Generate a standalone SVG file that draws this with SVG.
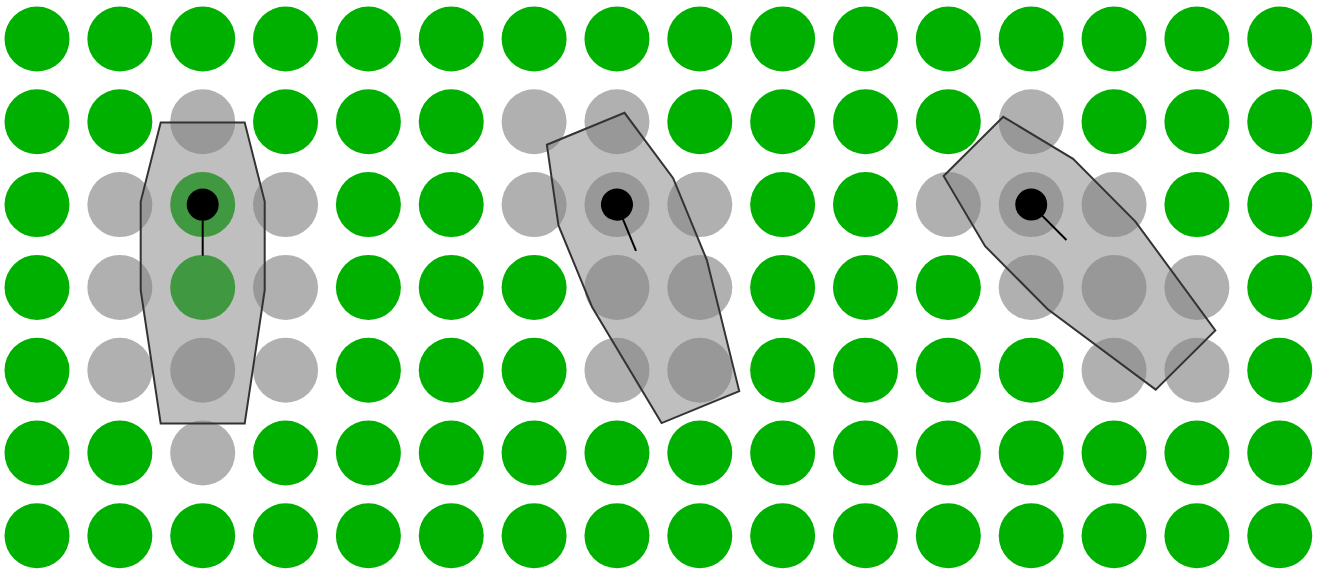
<svg xmlns="http://www.w3.org/2000/svg" width="1325" height="579" viewBox="0 0 1325 579">
<style>
.g{fill:#00b000}
.n{fill:#b0b0b0}
.shape{fill:#808080;fill-opacity:0.5;stroke:#333;stroke-width:2;stroke-linejoin:miter}
.dir{stroke:#000;stroke-width:2}
.dot{fill:#000}
</style>
<defs>
<circle id="c" r="32.5"/>
<polygon id="p" points="-42,-82 42,-82 62,-3 62,85.5 42,219 -42,219 -62,85.5 -62,-3"/>
</defs>
<rect width="1325" height="579" fill="#fff"/>
<g id="grid">
<g id="row0" class="g" transform="translate(0,39)">
<use href="#c" x="37"/><use href="#c" x="119.85"/><use href="#c" x="202.7"/><use href="#c" x="285.55"/><use href="#c" x="368.4"/><use href="#c" x="451.25"/><use href="#c" x="534.1"/><use href="#c" x="616.95"/><use href="#c" x="699.8"/><use href="#c" x="782.65"/><use href="#c" x="865.5"/><use href="#c" x="948.35"/><use href="#c" x="1031.2"/><use href="#c" x="1114.05"/><use href="#c" x="1196.9"/><use href="#c" x="1279.75"/>
</g>
<g id="row1" transform="translate(0,121.8)">
<use class="g" href="#c" x="37"/><use class="g" href="#c" x="119.85"/><use class="n" href="#c" x="202.7"/><use class="g" href="#c" x="285.55"/><use class="g" href="#c" x="368.4"/><use class="g" href="#c" x="451.25"/><use class="n" href="#c" x="534.1"/><use class="n" href="#c" x="616.95"/><use class="g" href="#c" x="699.8"/><use class="g" href="#c" x="782.65"/><use class="g" href="#c" x="865.5"/><use class="g" href="#c" x="948.35"/><use class="n" href="#c" x="1031.2"/><use class="g" href="#c" x="1114.05"/><use class="g" href="#c" x="1196.9"/><use class="g" href="#c" x="1279.75"/>
</g>
<g id="row2" transform="translate(0,204.6)">
<use class="g" href="#c" x="37"/><use class="n" href="#c" x="119.85"/><use class="g" href="#c" x="202.7"/><use class="n" href="#c" x="285.55"/><use class="g" href="#c" x="368.4"/><use class="g" href="#c" x="451.25"/><use class="n" href="#c" x="534.1"/><use class="n" href="#c" x="616.95"/><use class="n" href="#c" x="699.8"/><use class="g" href="#c" x="782.65"/><use class="g" href="#c" x="865.5"/><use class="n" href="#c" x="948.35"/><use class="n" href="#c" x="1031.2"/><use class="n" href="#c" x="1114.05"/><use class="g" href="#c" x="1196.9"/><use class="g" href="#c" x="1279.75"/>
</g>
<g id="row3" transform="translate(0,287.4)">
<use class="g" href="#c" x="37"/><use class="n" href="#c" x="119.85"/><use class="g" href="#c" x="202.7"/><use class="n" href="#c" x="285.55"/><use class="g" href="#c" x="368.4"/><use class="g" href="#c" x="451.25"/><use class="g" href="#c" x="534.1"/><use class="n" href="#c" x="616.95"/><use class="n" href="#c" x="699.8"/><use class="g" href="#c" x="782.65"/><use class="g" href="#c" x="865.5"/><use class="g" href="#c" x="948.35"/><use class="n" href="#c" x="1031.2"/><use class="n" href="#c" x="1114.05"/><use class="n" href="#c" x="1196.9"/><use class="g" href="#c" x="1279.75"/>
</g>
<g id="row4" transform="translate(0,370.2)">
<use class="g" href="#c" x="37"/><use class="n" href="#c" x="119.85"/><use class="n" href="#c" x="202.7"/><use class="n" href="#c" x="285.55"/><use class="g" href="#c" x="368.4"/><use class="g" href="#c" x="451.25"/><use class="g" href="#c" x="534.1"/><use class="n" href="#c" x="616.95"/><use class="n" href="#c" x="699.8"/><use class="g" href="#c" x="782.65"/><use class="g" href="#c" x="865.5"/><use class="g" href="#c" x="948.35"/><use class="g" href="#c" x="1031.2"/><use class="n" href="#c" x="1114.05"/><use class="n" href="#c" x="1196.9"/><use class="g" href="#c" x="1279.75"/>
</g>
<g id="row5" transform="translate(0,453)">
<use class="g" href="#c" x="37"/><use class="g" href="#c" x="119.85"/><use class="n" href="#c" x="202.7"/><use class="g" href="#c" x="285.55"/><use class="g" href="#c" x="368.4"/><use class="g" href="#c" x="451.25"/><use class="g" href="#c" x="534.1"/><use class="g" href="#c" x="616.95"/><use class="g" href="#c" x="699.8"/><use class="g" href="#c" x="782.65"/><use class="g" href="#c" x="865.5"/><use class="g" href="#c" x="948.35"/><use class="g" href="#c" x="1031.2"/><use class="g" href="#c" x="1114.05"/><use class="g" href="#c" x="1196.9"/><use class="g" href="#c" x="1279.75"/>
</g>
<g id="row6" class="g" transform="translate(0,535.8)">
<use href="#c" x="37"/><use href="#c" x="119.85"/><use href="#c" x="202.7"/><use href="#c" x="285.55"/><use href="#c" x="368.4"/><use href="#c" x="451.25"/><use href="#c" x="534.1"/><use href="#c" x="616.95"/><use href="#c" x="699.8"/><use href="#c" x="782.65"/><use href="#c" x="865.5"/><use href="#c" x="948.35"/><use href="#c" x="1031.2"/><use href="#c" x="1114.05"/><use href="#c" x="1196.9"/><use href="#c" x="1279.75"/>
</g>
</g>
<g id="footprint1" transform="translate(202.7,204.6)">
<use class="shape" href="#p"/>
<line class="dir" x1="0" y1="0" x2="0" y2="51"/>
<circle class="dot" r="16"/>
</g>
<g id="footprint2" transform="translate(616.95,204.6) rotate(-22.4)">
<use class="shape" href="#p"/>
<line class="dir" x1="0" y1="0" x2="0" y2="50"/>
<circle class="dot" r="16"/>
</g>
<g id="footprint3" transform="translate(1031.2,204.6) rotate(-44.8)">
<use class="shape" href="#p"/>
<line class="dir" x1="0" y1="0" x2="0" y2="50"/>
<circle class="dot" r="16"/>
</g>
</svg>
